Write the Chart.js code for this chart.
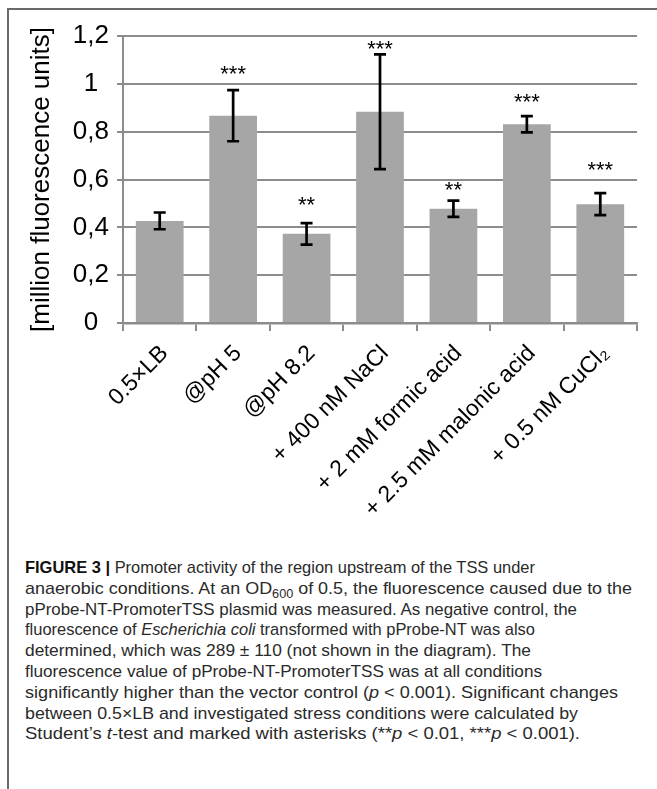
<!DOCTYPE html>
<html>
<head>
<meta charset="utf-8">
<script src="https://cdn.jsdelivr.net/npm/chart.js@4/dist/chart.umd.min.js"></script>
<style>
  body { margin: 0; background: #fff; }
  #wrap { position: relative; width: 657px; height: 789px; overflow: hidden; }
  #frame { position: absolute; left: 7px; top: 8px; right: -5px; bottom: -5px;
           border-left: 2px solid #6a6a6a; border-top: 2px solid #6a6a6a; }
  #chart { position: absolute; left: 0; top: 0; }
  #caption { position: absolute; left: 25px; top: 558px; font-family: "Liberation Sans", Arial, sans-serif;
             font-size: 17px; line-height: 20.8px; color: #2a2a2a; }
  #caption div { white-space: nowrap; transform-origin: 0 50%; width: max-content; }
  #caption b { color: #111; }
  #caption sub { font-size: 12px; line-height: 0; }
</style>
</head>
<body>
<div id="wrap">
  <div id="frame"></div>
  <canvas id="chart" width="657" height="520"></canvas>
  <div id="caption"></div>
</div>
<script>
// data
const categories = ["0.5×LB", "@pH 5", "@pH 8.2", "+ 400 nM NaCl", "+ 2 mM formic acid", "+ 2.5 mM malonic acid", "+ 0.5 nM CuCl₂"];
const values = [0.427, 0.867, 0.373, 0.883, 0.478, 0.831, 0.497];
const errors = [0.035, 0.107, 0.045, 0.240, 0.034, 0.034, 0.046];
const stars = ["", "***", "**", "***", "**", "***", "***"];
// height (in axis units) where each asterisk label sits
const starLevels = [0, 1.049, 0.502, 1.154, 0.564, 0.932, 0.648];
const yTicks = [0, 0.2, 0.4, 0.6, 0.8, 1, 1.2];

// caption, one entry per printed line, with where each line ends in the figure
const captionLines = [
    "<b>FIGURE 3 |</b> Promoter activity of the region upstream of the TSS under",
    "anaerobic conditions. At an OD<sub>600</sub> of 0.5, the fluorescence caused due to the",
    "pProbe-NT-PromoterTSS plasmid was measured. As negative control, the",
    "fluorescence of <i>Escherichia coli</i> transformed with pProbe-NT was also",
    "determined, which was 289 ± 110 (not shown in the diagram). The",
    "fluorescence value of pProbe-NT-PromoterTSS was at all conditions",
    "significantly higher than the vector control (<i>p</i> &lt; 0.001). Significant changes",
    "between 0.5×LB and investigated stress conditions were calculated by",
    "Student’s <i>t</i>-test and marked with asterisks (**<i>p</i> &lt; 0.01, ***<i>p</i> &lt; 0.001)."
];
const captionEnds = [535, 632, 577, 535, 531, 542, 618, 578, 580];

const captionDiv = document.getElementById("caption");
captionLines.forEach(function(html, i) {
    const d = document.createElement("div");
    d.innerHTML = html;
    captionDiv.appendChild(d);
    const s = (captionEnds[i] - 25) / d.getBoundingClientRect().width;
    d.style.transform = "scaleX(" + s + ")";
});

const gridColor = "#8c8c8c";

const errorBars = {
    id: "errorBars",
    afterDatasetsDraw(chart) {
        const ctx = chart.ctx;
        const meta = chart.getDatasetMeta(0);
        const y = chart.scales.y;
        ctx.save();
        meta.data.forEach(function(bar, i) {
            const x = bar.x;
            const top = y.getPixelForValue(values[i] + errors[i]);
            const bottom = y.getPixelForValue(values[i] - errors[i]);
            ctx.strokeStyle = "#000";
            ctx.lineWidth = 2.7;
            ctx.beginPath();
            ctx.moveTo(x, top); ctx.lineTo(x, bottom);
            ctx.moveTo(x - 6, top); ctx.lineTo(x + 6, top);
            ctx.moveTo(x - 6, bottom); ctx.lineTo(x + 6, bottom);
            ctx.stroke();
            if (stars[i]) {
                ctx.fillStyle = "#000";
                ctx.font = "22px 'Liberation Sans', Arial, sans-serif";
                ctx.textAlign = "center";
                ctx.textBaseline = "alphabetic";
                // asterisk glyph sits ~9px above the baseline
                ctx.fillText(stars[i], x, y.getPixelForValue(starLevels[i]) + 9);
            }
        });
        ctx.restore();
    }
};

new Chart(document.getElementById("chart"), {
    type: "bar",
    data: {
        labels: categories,
        datasets: [{
            data: values,
            backgroundColor: "#a6a6a6",
            borderWidth: 0,
            barPercentage: 0.65,
            categoryPercentage: 1.0
        }]
    },
    options: {
        responsive: false,
        animation: false,
        events: [],
        layout: { padding: { left: 0, right: 20, top: 36, bottom: 0 } },
        plugins: { legend: { display: false }, tooltip: { enabled: false } },
        scales: {
            x: {
                afterFit: function(s) { s.height = 197; },
                grid: { drawOnChartArea: false, drawTicks: true, tickLength: 8, color: gridColor, lineWidth: 2 },
                border: { display: true, color: gridColor, width: 2.5 },
                ticks: {
                    color: "#000",
                    font: { family: "'Liberation Sans', Arial, sans-serif", size: 23 },
                    minRotation: 45, maxRotation: 45,
                    autoSkip: false,
                    labelOffset: 5,
                    padding: 9
                }
            },
            y: {
                min: 0, max: 1.2,
                afterFit: function(s) { s.width = 123; },
                afterBuildTicks: function(s) { s.ticks = yTicks.map(v => ({ value: v })); },
                grid: { color: gridColor, lineWidth: 2, tickLength: 6 },
                border: { display: true, color: gridColor, width: 2 },
                ticks: {
                    color: "#000",
                    crossAlign: "center",
                    padding: 8,
                    font: { family: "'Liberation Sans', Arial, sans-serif", size: 26 },
                    callback: function(v) { return String(Math.round(v * 10) / 10).replace(".", ","); }
                },
                title: {
                    display: true,
                    text: "[million fluorescence units]",
                    color: "#000",
                    font: { family: "'Liberation Sans', Arial, sans-serif", size: 26 },
                    padding: { top: 26, bottom: 0 }
                }
            }
        }
    },
    plugins: [errorBars]
});
</script>
</body>
</html>
